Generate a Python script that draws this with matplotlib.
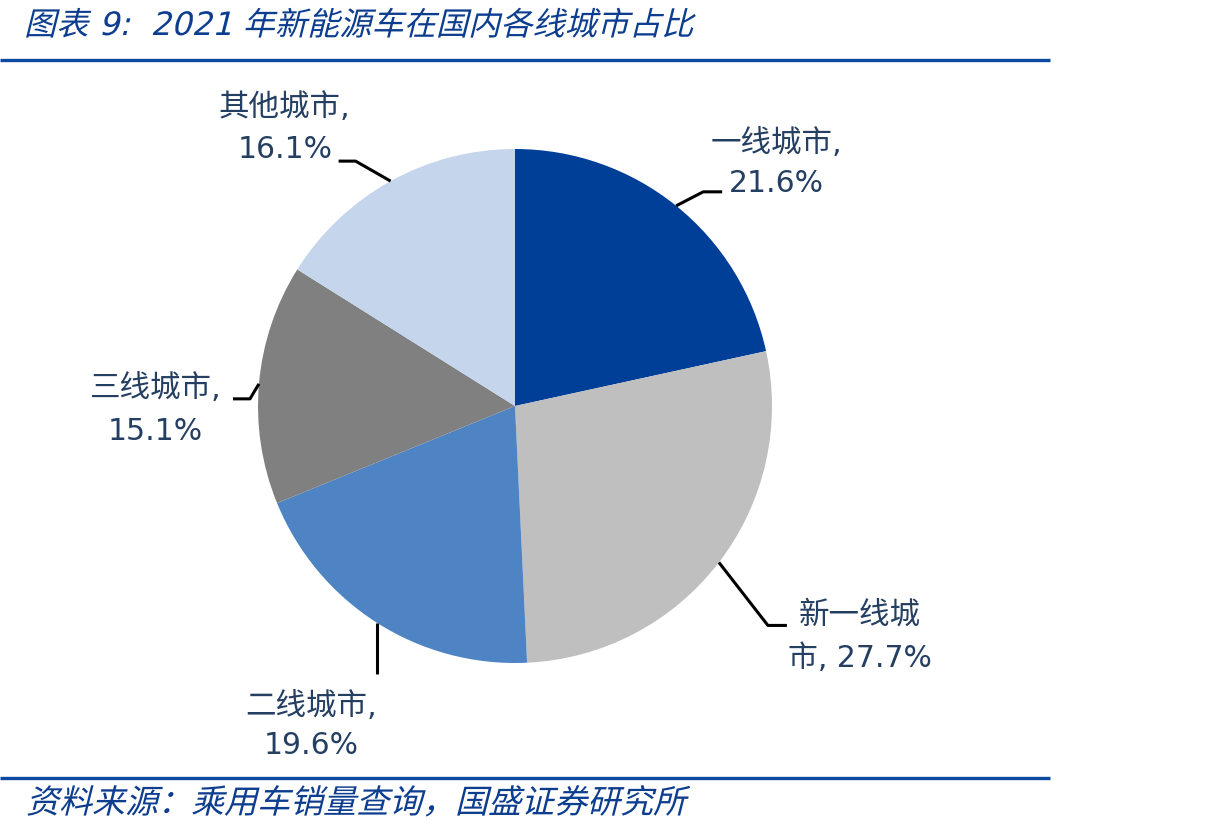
import numpy as np
import matplotlib
matplotlib.use("Agg")
import matplotlib.pyplot as plt
import matplotlib.transforms as mtransforms
from matplotlib.textpath import TextPath
from matplotlib.patches import PathPatch
from matplotlib.font_manager import FontProperties

plt.rcParams['font.family'] = ['DejaVu Sans', 'Noto Sans CJK SC']

# data
cities = ['一线城市', '新一线城市', '二线城市', '三线城市', '其他城市']
shares = [21.6, 27.7, 19.6, 15.1, 16.1]
colors = ['#003f98', '#bfbfbf', '#4f84c4', '#808080', '#c5d5eb']

title = '图表 9:  2021 年新能源车在国内各线城市占比'
source = '资料来源：乘用车销量查询，国盛证券研究所'

W, H = 1232, 831
blue = '#0d3d8f'
label_color = '#243f61'

# leader layout in pixels (y down): elbow offset from wedge edge, tail length, text centre
elbow = [(27, -14), (49, 63), (0, 51), (-9, 15), (-35, -20)]
tail = [19, 19, 0, -17, -17]
text_pos = [(776, 143, 184), (860, 615, 658), (311, 706, 746), (155, 388, 431), (285, 107, 150)]

fig = plt.figure(figsize=(W / 100, H / 100), dpi=100)
ax = fig.add_axes([0, 0, 1, 1])

cx, cy, r = 515, H - 406, 257
wedges, _ = ax.pie(shares, colors=colors, startangle=90, counterclock=False,
                   center=(cx, cy), radius=r, wedgeprops=dict(linewidth=0))
ax.set_xlim(0, W)
ax.set_ylim(0, H)
ax.set_aspect('equal')
ax.axis('off')

for i, w in enumerate(wedges):
    mid = np.deg2rad((w.theta1 + w.theta2) / 2)
    ex, ey = cx + r * np.cos(mid), cy + r * np.sin(mid)
    bx, by = ex + elbow[i][0], ey - elbow[i][1]
    ax.plot([ex, bx, bx + tail[i]], [ey, by, by], color='black', lw=2.2,
            solid_capstyle='butt', zorder=3)
    name = cities[i]
    pct = f'{shares[i]}%'
    if len(name) > 4:
        line1, line2 = name[:4], name[4:] + ', ' + pct
    else:
        line1, line2 = name + ',', pct
    tx, ty1, ty2 = text_pos[i]
    ax.text(tx, H - ty1, line1, ha='center', va='center', fontsize=22, color=label_color)
    ax.text(tx, H - ty2, line2, ha='center', va='center', fontsize=21.5, color=label_color)


def slanted(x, y, s, size, color):
    fp = FontProperties(family=['DejaVu Sans', 'Noto Sans CJK SC'])
    tp = TextPath((0, 0), s, size=size, prop=fp)
    tr = mtransforms.Affine2D().skew_deg(14, 0).translate(x, y)
    ax.add_patch(PathPatch(tr.transform_path(tp), fc=color, ec='none', lw=0))


slanted(24, H - 35, title, 32.2, blue)
slanted(26, H - 813, source, 33, blue)

ax.plot([0, 1050], [H - 59.5, H - 59.5], color='#0b4a9e', lw=2.4, solid_capstyle='butt')
ax.plot([0, 1050], [H - 777.5, H - 777.5], color='#0b4a9e', lw=2.4, solid_capstyle='butt')

fig.savefig('out.png', dpi=100)
